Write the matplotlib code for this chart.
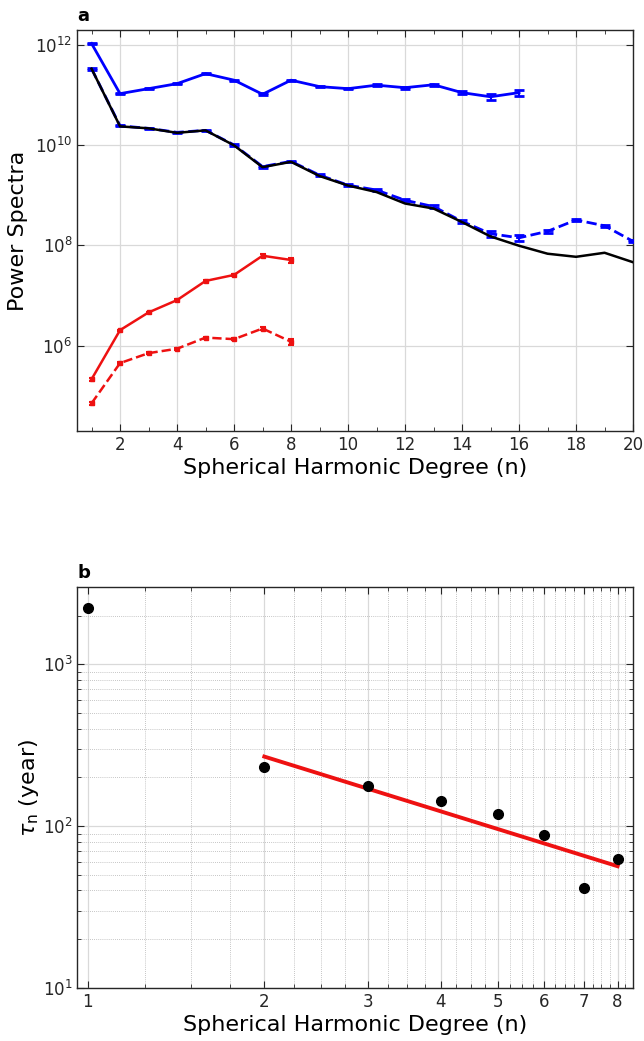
import matplotlib
matplotlib.use('Agg')

import matplotlib.pyplot as plt
import numpy as np
from matplotlib.ticker import FixedLocator, NullFormatter, NullLocator, LogLocator

# ---- panel a data ----
deg_top = np.arange(1, 17)
top_solid = [1.05e12, 1.05e11, 1.32e11, 1.66e11, 2.63e11, 1.95e11, 1.02e11, 1.95e11,
             1.45e11, 1.32e11, 1.55e11, 1.38e11, 1.58e11, 1.10e11, 9.1e10, 1.10e11]
top_solid_err = [0.03, 0.03, 0.02, 0.02, 0.03, 0.03, 0.04, 0.03,
                 0.03, 0.03, 0.04, 0.04, 0.05, 0.08, 0.13, 0.13]

deg_full = np.arange(1, 21)
black_line = [3.3e11, 2.34e10, 2.14e10, 1.74e10, 1.95e10, 9.8e9, 3.6e9, 4.6e9, 2.4e9, 1.55e9,
              1.15e9, 6.8e8, 5.4e8, 2.9e8, 1.5e8, 9.8e7, 6.8e7, 5.9e7, 7.1e7, 4.6e7]
blue_dashed = [3.3e11, 2.4e10, 2.14e10, 1.78e10, 1.95e10, 1.0e10, 3.7e9, 4.7e9, 2.5e9, 1.58e9,
               1.26e9, 7.9e8, 5.9e8, 3.0e8, 1.7e8, 1.41e8, 1.9e8, 3.2e8, 2.45e8, 1.2e8]
blue_dashed_err = [0.04, 0.03, 0.03, 0.03, 0.03, 0.03, 0.05, 0.04, 0.05, 0.04,
                   0.05, 0.05, 0.06, 0.08, 0.12, 0.12, 0.06, 0.05, 0.04, 0.05]

deg_red = np.arange(1, 9)
red_solid = [2.14e5, 2.04e6, 4.6e6, 8.1e6, 1.95e7, 2.57e7, 6.2e7, 5.1e7]
red_solid_err = [0.06, 0.03, 0.03, 0.03, 0.04, 0.04, 0.06, 0.12]
red_dashed = [7.1e4, 4.5e5, 7.1e5, 8.7e5, 1.45e6, 1.35e6, 2.2e6, 1.2e6]
red_dashed_err = [0.08, 0.04, 0.04, 0.04, 0.05, 0.05, 0.08, 0.15]

# ---- panel b data ----
deg_tau = [1, 2, 3, 4, 5, 6, 7, 8]
tau = [2240, 232, 176, 143, 118, 88.5, 41.3, 63]
fit_deg = [2, 8]
fit_tau = [269, 56.5]

GRID = '#d9d9d9'
AXC = '#262626'

fig = plt.figure(figsize=(6.44, 10.41), dpi=100)


def style_axes(ax):
    for s in ax.spines.values():
        s.set_color(AXC)
        s.set_linewidth(1.0)
    ax.tick_params(which='both', direction='in', top=True, right=True,
                   colors=AXC, labelcolor='#262626', labelsize=12)
    ax.tick_params(which='major', length=5)
    ax.tick_params(which='minor', length=3)


# ---------------- panel a ----------------
ax1 = fig.add_axes([0.120, 0.586, 0.863, 0.385])
style_axes(ax1)
ax1.set_yscale('log')

ax1.errorbar(deg_full, blue_dashed, yerr=np.array(blue_dashed_err) * np.array(blue_dashed),
             color='#0000ff', ls='--', lw=2.0, capsize=3.5, capthick=2, elinewidth=1.5, zorder=3)
ax1.plot(deg_full, black_line, color='black', lw=1.8, zorder=4)
ax1.errorbar(deg_top, top_solid, yerr=np.array(top_solid_err) * np.array(top_solid),
             color='#0000ff', ls='-', lw=2.0, capsize=3.5, capthick=2, elinewidth=1.5, zorder=5)
ax1.errorbar(deg_red, red_solid, yerr=np.array(red_solid_err) * np.array(red_solid),
             color='#ee1111', ls='-', lw=1.8, marker='s', ms=2.5, capsize=2.5, capthick=1.5,
             elinewidth=1.5, zorder=5)
ax1.errorbar(deg_red, red_dashed, yerr=np.array(red_dashed_err) * np.array(red_dashed),
             color='#ee1111', ls='--', lw=1.8, marker='s', ms=2.5, capsize=2.5, capthick=1.5,
             elinewidth=1.5, zorder=5)

ax1.set_xlim(0.5, 20)
ax1.set_ylim(2e4, 1.93e12)
ax1.set_xticks(np.arange(2, 21, 2))
ax1.xaxis.set_minor_locator(FixedLocator(np.arange(1, 20, 2)))
ax1.set_yticks([1e6, 1e8, 1e10, 1e12])
ax1.yaxis.set_minor_locator(NullLocator())
ax1.grid(True, which='major', color=GRID, lw=0.9)
ax1.set_axisbelow(True)
ax1.set_xlabel('Spherical Harmonic Degree (n)', fontsize=16, labelpad=3)
ax1.set_ylabel('Power Spectra', fontsize=16, labelpad=5)
ax1.text(0.0, 1.012, 'a', transform=ax1.transAxes, fontsize=13, fontweight='bold',
         ha='left', va='bottom')

# ---------------- panel b ----------------
ax2 = fig.add_axes([0.120, 0.051, 0.863, 0.385])
style_axes(ax2)
ax2.set_xscale('log')
ax2.set_yscale('log')

ax2.plot(fit_deg, fit_tau, color='#ee1111', lw=2.8, zorder=3)
ax2.plot(deg_tau, tau, 'o', color='black', ms=7, zorder=4)

ax2.set_xlim(0.96, 8.5)
ax2.set_ylim(10, 3000)
ax2.set_xticks(deg_tau)
ax2.set_xticklabels([str(d) for d in deg_tau])
minor_x = [v for v in np.arange(1, 8.5, 0.25) if v != int(v)]
ax2.xaxis.set_minor_locator(FixedLocator(minor_x))
ax2.xaxis.set_minor_formatter(NullFormatter())
ax2.yaxis.set_major_locator(FixedLocator([10, 100, 1000]))
ax2.yaxis.set_minor_locator(LogLocator(base=10, subs=np.arange(2, 10)))
ax2.yaxis.set_minor_formatter(NullFormatter())
ax2.grid(True, which='major', color=GRID, lw=0.9)
ax2.grid(True, which='minor', color='#b3b3b3', lw=0.6, ls=(0, (1, 1.5)))
ax2.set_axisbelow(True)
ax2.set_xlabel('Spherical Harmonic Degree (n)', fontsize=16, labelpad=3)
ax2.set_ylabel(r'$\tau_{\mathrm{n}}$ (year)', fontsize=16, labelpad=1)
ax2.text(0.0, 1.012, 'b', transform=ax2.transAxes, fontsize=13, fontweight='bold',
         ha='left', va='bottom')

fig.savefig('out.png', dpi=100)
